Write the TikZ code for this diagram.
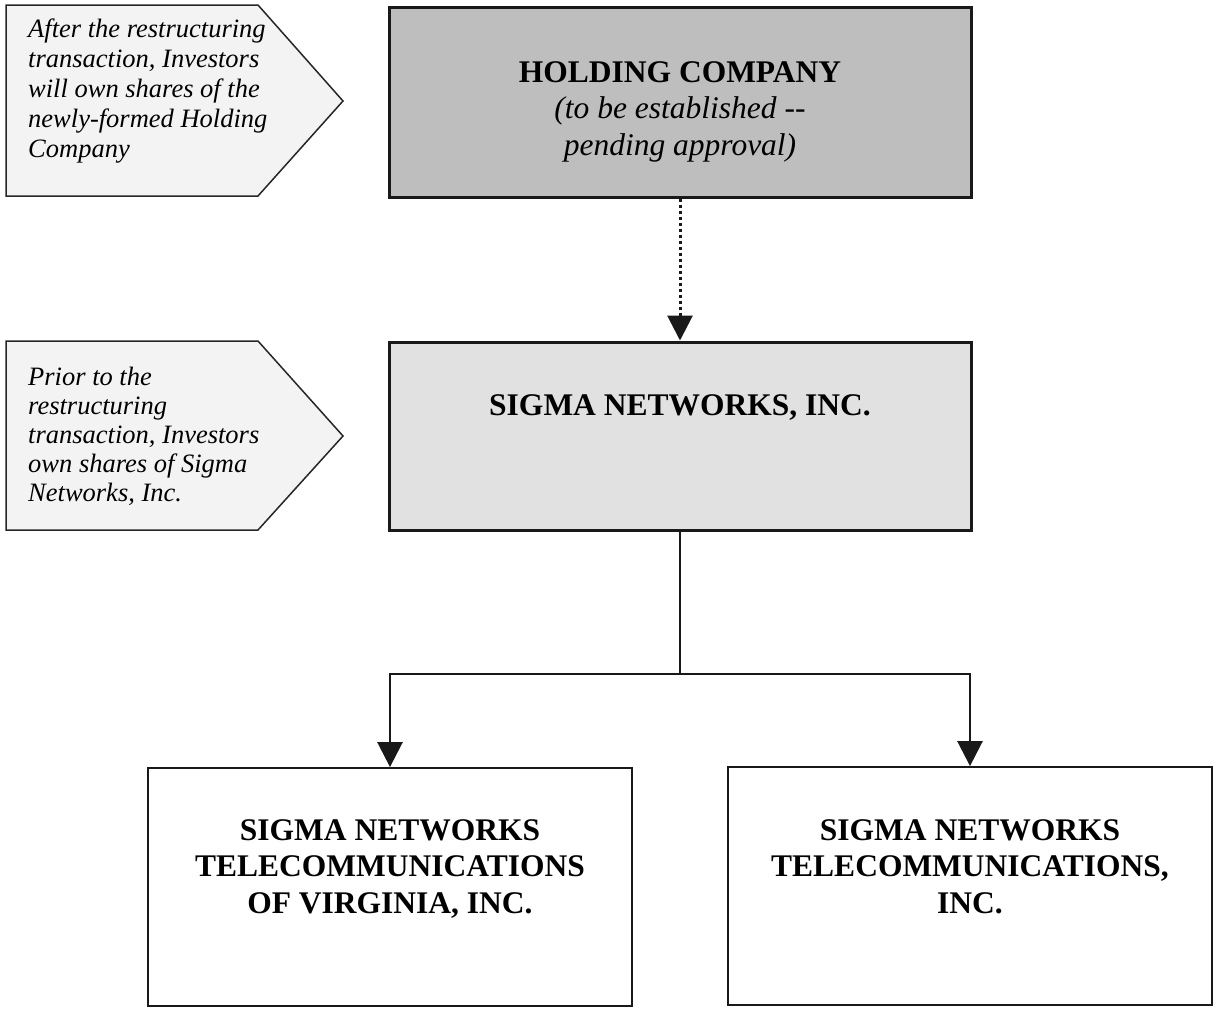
\documentclass[tikz,border=0pt]{standalone}
\usepackage{fontspec}
\setmainfont{Liberation Serif}
\usetikzlibrary{arrows.meta}
\definecolor{holdgray}{RGB}{190,190,190}
\definecolor{sigmagray}{RGB}{225,225,225}
\definecolor{callgray}{RGB}{243,243,243}
\newcommand{\mylines}[2]{\begin{tabular}[t]{@{}#1@{}}#2\end{tabular}}
\begin{document}
\begin{tikzpicture}[x=1pt,y=-1pt,
  mainbox/.style={draw=black!90, line width=3pt, inner sep=0pt, minimum width=582pt},
  subbox/.style={draw=black!90, line width=1.8pt, fill=white, inner sep=0pt, minimum width=484pt, minimum height=238pt},
  callout/.style={draw=black!85, line width=1.5pt, fill=callgray, line join=miter},
  boldtxt/.style={inner sep=0pt, anchor=base, font=\fontsize{31.5}{36.5}\selectfont\bfseries},
  ittxt/.style={inner sep=0pt, anchor=base west, font=\fontsize{26.5}{30}\selectfont\itshape},
  arr/.style={line width=2.6pt, draw=black!90, -{Triangle[width=25pt,length=25pt]}},
  dotarr/.style={arr, line width=3pt, dash pattern=on 3pt off 3pt}
]
\useasboundingbox (0,0) rectangle (1216,1009);

% callouts
\draw[callout] (6,5) -- (258,5) -- (343,101) -- (258,196) -- (6,196) -- cycle;
\node[ittxt] (t1) at (28,37) {\mylines{l}{After the restructuring\\ transaction, Investors\\ will own shares of the\\ newly-formed Holding\\ Company}};

\draw[callout] (6,341) -- (258,341) -- (343,436) -- (258,530) -- (6,530) -- cycle;
\node[ittxt, font=\fontsize{26.5}{29}\selectfont\itshape] (t2) at (28,385) {\mylines{l}{Prior to the\\ restructuring\\ transaction, Investors\\ own shares of Sigma\\ Networks, Inc.}};

% main boxes
\node[mainbox, fill=holdgray, minimum height=190pt] (hold) at (680,102) {};
\node[boldtxt] (holdt) at (680,82) {\mylines{c}{HOLDING COMPANY\\ {\mdseries\itshape (to be established {-}{-}}\\ {\mdseries\itshape pending approval)}}};

\node[mainbox, fill=sigmagray, minimum height=188pt] (sigma) at (680,436) {};
\node[boldtxt] (sigmat) at (680,415) {SIGMA NETWORKS, INC.};

% subsidiaries
\node[subbox] (sub1) at (390,887) {};
\node[boldtxt] (sub1t) at (390,840) {\mylines{c}{SIGMA NETWORKS\\ TELECOMMUNICATIONS\\ OF VIRGINIA, INC.}};

\node[subbox] (sub2) at (970,886) {};
\node[boldtxt] (sub2t) at (970,840) {\mylines{c}{SIGMA NETWORKS\\ TELECOMMUNICATIONS,\\ INC.}};

% connectors
\draw[dotarr] (hold.south) -- (sigma.north);
\coordinate (j) at (680,674);
\draw[line width=2.6pt, draw=black!90] (sigma.south) -- (j);
\draw[arr] (j) -| (sub1.north);
\draw[arr] (j) -| (sub2.north);
\end{tikzpicture}
\end{document}
